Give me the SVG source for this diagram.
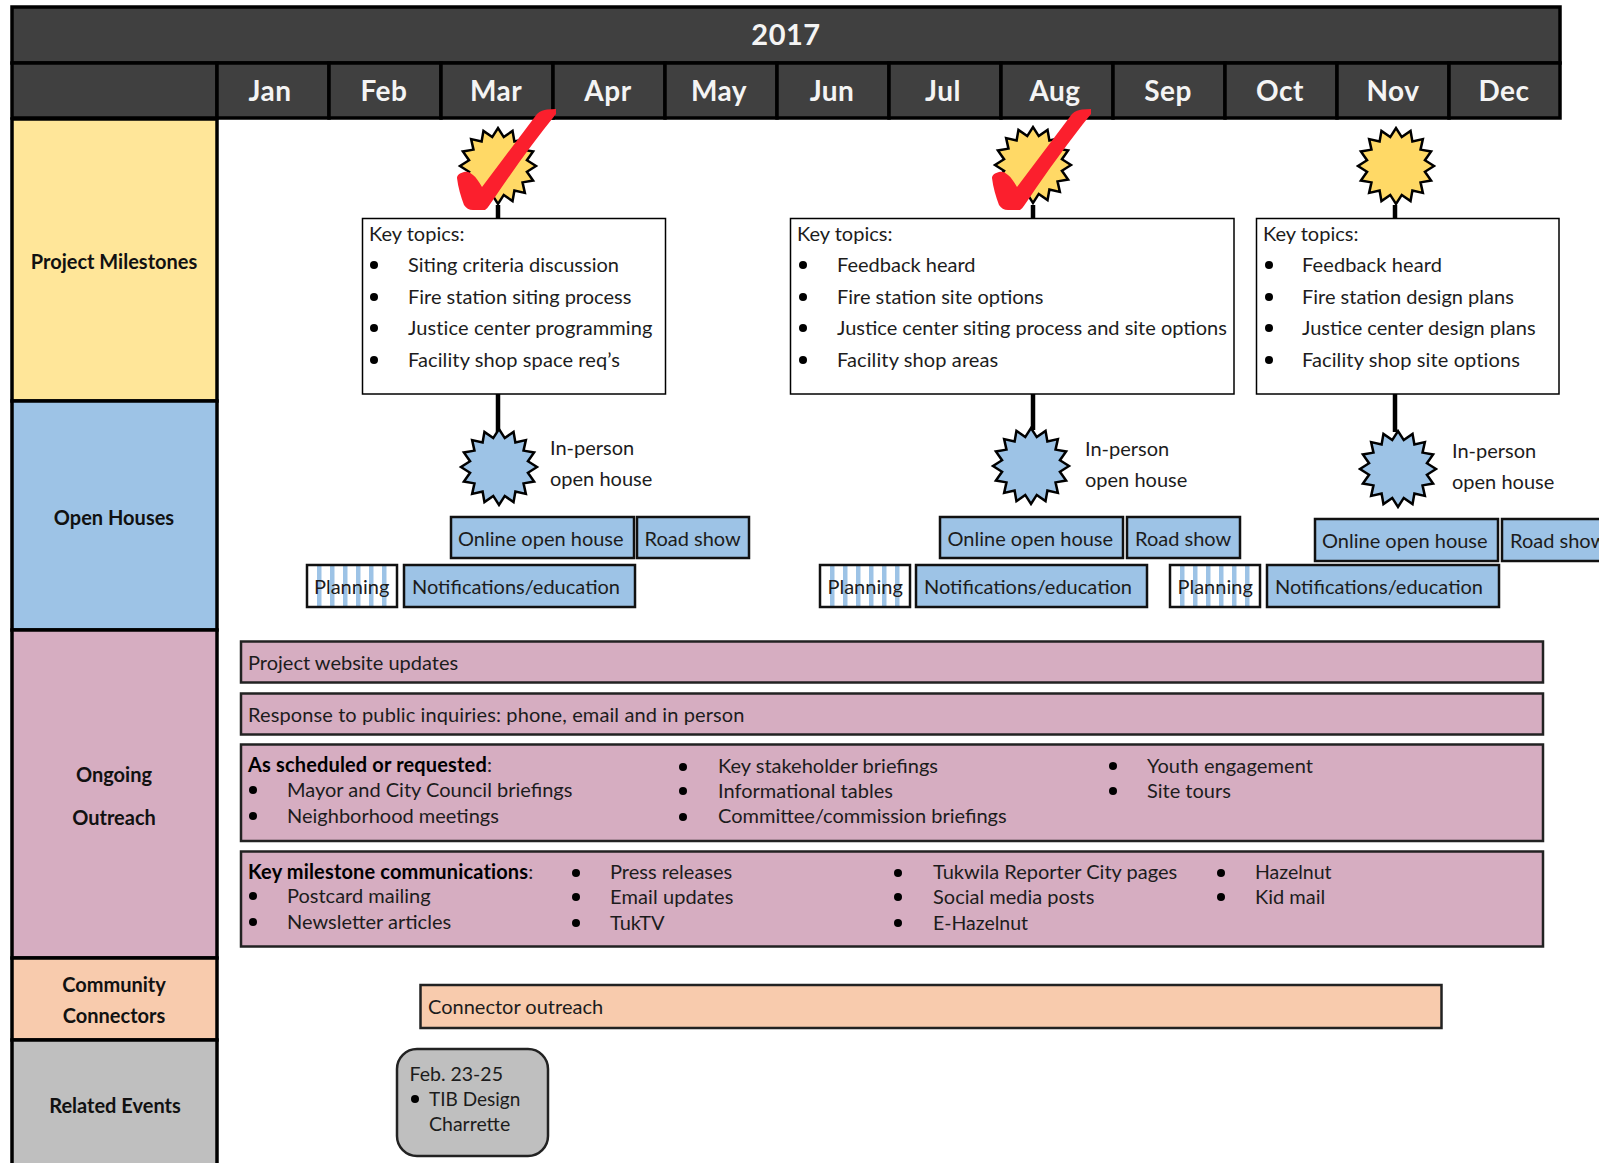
<svg xmlns="http://www.w3.org/2000/svg" xmlns:xlink="http://www.w3.org/1999/xlink" width="1599" height="1163" viewBox="0 0 1599 1163">
<style>
text{font-family:Lato,"Open Sans",sans-serif;font-size:20px;fill:#1c1c1c}
.hd{font-weight:700;fill:#f4f4f4;text-anchor:middle;letter-spacing:.5px}
.yr{font-size:29px}.mo{font-size:28px}
.sb{font-weight:700;text-anchor:middle;fill:#111}
.b{font-weight:700;fill:#000;letter-spacing:.15px}
.w{letter-spacing:.11px}
.sm{font-size:19.500px}
.xs{font-size:19px}
.cell{stroke:#000;stroke-width:3.500px}
.dark{fill:#404040}
.box{fill:#fff;stroke:#000;stroke-width:1.500px}
.blue{fill:#9dc3e6;stroke:#111;stroke-width:2.500px}
.plan{fill:none;stroke:#111;stroke-width:2.500px}
.pink{fill:#d6adc1;stroke:#222;stroke-width:2.500px}
.dot{fill:#000}
.star{stroke:#000;stroke-width:2.500px;stroke-linejoin:miter}
.conn{stroke:#000;stroke-width:4.500px;fill:none}
.chk{fill:#fb1f2d}
</style>
<defs>
<polygon id="burst" points="38,0 28.93,5.76 35.11,14.54 24.53,16.39 26.87,26.87 16.39,24.53 14.54,35.11 5.76,28.93 0,38 -5.76,28.93 -14.54,35.11 -16.39,24.53 -26.87,26.87 -24.53,16.39 -35.11,14.54 -28.93,5.76 -38,0 -28.93,-5.76 -35.11,-14.54 -24.53,-16.39 -26.87,-26.87 -16.39,-24.53 -14.54,-35.11 -5.76,-28.93 0,-38 5.76,-28.93 14.54,-35.11 16.39,-24.53 26.87,-26.87 24.53,-16.39 35.11,-14.54 28.93,-5.76"/>
<path id="check" d="M556 109L547 109.500C544 110 540 111 537 114L482 187C479 182 476 177 473 175C470 172 467 171 464 172C460 173 457 175 457 178C458 187 461 197 464 205C466 208 469 210 473 210L485 210C488 208 490 204 493 200C512 172 534 141 556 114Z"/>
<g id="stripes" fill="#9dc3e6"><rect x="10.500" y="2" width="4.500" height="40"/><rect x="23.500" y="2" width="4.500" height="40"/><rect x="36.500" y="2" width="4.500" height="40"/><rect x="49.500" y="2" width="4.500" height="40"/><rect x="62.500" y="2" width="4.500" height="40"/><rect x="75.500" y="2" width="4.500" height="40"/></g>
</defs>
<rect width="1599" height="1163" fill="#fff"/>

<g id="header">
<rect class="cell dark" x="12" y="7" width="1548" height="56"/>
<rect class="cell dark" x="12" y="63" width="205" height="55"/>
<rect class="cell dark" x="217" y="63" width="112" height="55"/>
<rect class="cell dark" x="329" y="63" width="112" height="55"/>
<rect class="cell dark" x="441" y="63" width="112" height="55"/>
<rect class="cell dark" x="553" y="63" width="112" height="55"/>
<rect class="cell dark" x="665" y="63" width="112" height="55"/>
<rect class="cell dark" x="777" y="63" width="112" height="55"/>
<rect class="cell dark" x="889" y="63" width="112" height="55"/>
<rect class="cell dark" x="1001" y="63" width="112" height="55"/>
<rect class="cell dark" x="1113" y="63" width="112" height="55"/>
<rect class="cell dark" x="1225" y="63" width="112" height="55"/>
<rect class="cell dark" x="1337" y="63" width="112" height="55"/>
<rect class="cell dark" x="1449" y="63" width="111" height="55"/>
<text class="hd yr" x="786" y="45">2017</text>
<text class="hd mo" x="270" y="101">Jan</text>
<text class="hd mo" x="384" y="101">Feb</text>
<text class="hd mo" x="496" y="101">Mar</text>
<text class="hd mo" x="608" y="101">Apr</text>
<text class="hd mo" x="719" y="101">May</text>
<text class="hd mo" x="832" y="101">Jun</text>
<text class="hd mo" x="943" y="101">Jul</text>
<text class="hd mo" x="1055" y="101">Aug</text>
<text class="hd mo" x="1168" y="101">Sep</text>
<text class="hd mo" x="1280" y="101">Oct</text>
<text class="hd mo" x="1393" y="101">Nov</text>
<text class="hd mo" x="1504" y="101">Dec</text>
</g>

<g id="row-milestones"><rect class="cell" fill="#ffe699" x="12" y="119" width="205" height="282"/><text class="sb" x="114" y="269">Project Milestones</text></g>
<g id="row-openhouses"><rect class="cell" fill="#9dc3e6" x="12" y="401" width="205" height="229"/><text class="sb" x="114" y="525">Open Houses</text></g>
<g id="row-outreach"><rect class="cell" fill="#d6adc1" x="12" y="630" width="205" height="328"/><text class="sb" x="114" y="782">Ongoing</text><text class="sb" x="114" y="825">Outreach</text></g>
<g id="row-connectors"><rect class="cell" fill="#f8cbad" x="12" y="958" width="205" height="82"/><text class="sb" x="114" y="992">Community</text><text class="sb" x="114" y="1023">Connectors</text></g>
<g id="row-events"><rect class="cell" fill="#bfbfbf" x="12" y="1040" width="205" height="140"/><text class="sb" x="115" y="1113">Related Events</text></g>

<g id="connectors">
<line class="conn" x1="498" y1="205" x2="498" y2="218"/>
<line class="conn" x1="498" y1="394" x2="498" y2="432"/>
<line class="conn" x1="1033" y1="205" x2="1033" y2="218"/>
<line class="conn" x1="1033" y1="394" x2="1033" y2="430"/>
<line class="conn" x1="1395" y1="205" x2="1395" y2="218"/>
<line class="conn" x1="1395" y1="394" x2="1395" y2="432"/>
</g>

<g id="milestone-1"><use href="#burst" class="star" fill="#ffd966" x="498" y="166"/><use href="#check" class="chk"/></g>
<g id="milestone-2"><use href="#burst" class="star" fill="#ffd966" x="1033" y="165"/><use href="#check" class="chk" x="535"/></g>
<g id="milestone-3"><use href="#burst" class="star" fill="#ffd966" x="1396" y="166"/></g>

<g id="topics-1"><rect class="box" x="362.500" y="218.500" width="303" height="175.500"/>
<text x="369" y="241">Key topics:</text>
<circle class="dot" cx="374" cy="265" r="4"/><text x="408" y="272">Siting criteria discussion</text>
<circle class="dot" cx="374" cy="297" r="4"/><text x="408" y="304">Fire station siting process</text>
<circle class="dot" cx="374" cy="328" r="4"/><text class="w" x="408" y="335">Justice center programming</text>
<circle class="dot" cx="374" cy="360" r="4"/><text class="w" x="408" y="367">Facility shop space req’s</text></g>
<g id="topics-2"><rect class="box" x="790.500" y="218.500" width="443.500" height="175.500"/>
<text x="797" y="241">Key topics:</text>
<circle class="dot" cx="803" cy="265" r="4"/><text x="837" y="272">Feedback heard</text>
<circle class="dot" cx="803" cy="297" r="4"/><text x="837" y="304">Fire station site options</text>
<circle class="dot" cx="803" cy="328" r="4"/><text x="837" y="335">Justice center siting process and site options</text>
<circle class="dot" cx="803" cy="360" r="4"/><text class="w" x="837" y="367">Facility shop areas</text></g>
<g id="topics-3"><rect class="box" x="1256.500" y="218.500" width="302.500" height="175.500"/>
<text x="1263" y="241">Key topics:</text>
<circle class="dot" cx="1269" cy="265" r="4"/><text class="w" x="1302" y="272">Feedback heard</text>
<circle class="dot" cx="1269" cy="297" r="4"/><text x="1302" y="304">Fire station design plans</text>
<circle class="dot" cx="1269" cy="328" r="4"/><text x="1302" y="335">Justice center design plans</text>
<circle class="dot" cx="1269" cy="360" r="4"/><text class="w" x="1302" y="367">Facility shop site options</text></g>

<g id="openhouse-1"><use href="#burst" class="star" fill="#9dc3e6" x="499" y="467"/><text x="550" y="455">In-person</text><text x="550" y="486">open house</text></g>
<g id="openhouse-2"><use href="#burst" class="star" fill="#9dc3e6" x="1031" y="466"/><text x="1085" y="456">In-person</text><text x="1085" y="487">open house</text></g>
<g id="openhouse-3"><use href="#burst" class="star" fill="#9dc3e6" x="1398" y="469"/><text x="1452" y="458">In-person</text><text x="1452" y="489">open house</text></g>

<g id="online-1"><rect class="blue" x="451" y="517" width="183" height="41"/><text x="458" y="546">Online open house</text></g>
<g id="road-1"><rect class="blue" x="637" y="517" width="112" height="41"/><text x="644.500" y="546">Road show</text></g>
<g id="planning-1"><use href="#stripes" x="306.500" y="564"/><rect class="plan" x="307" y="565" width="90" height="42"/><text x="314" y="594">Planning</text></g>
<g id="notif-1"><rect class="blue" x="404" y="565" width="231" height="42"/><text x="412" y="594">Notifications/education</text></g>

<g id="online-2"><rect class="blue" x="940" y="517" width="183" height="41"/><text x="947.500" y="546">Online open house</text></g>
<g id="road-2"><rect class="blue" x="1127" y="517" width="113" height="41"/><text x="1135" y="546">Road show</text></g>
<g id="planning-2"><use href="#stripes" x="819.500" y="564"/><rect class="plan" x="820" y="565" width="90" height="42"/><text x="827.500" y="594">Planning</text></g>
<g id="notif-2"><rect class="blue" x="916" y="565" width="231" height="42"/><text x="924" y="594">Notifications/education</text></g>

<g id="online-3"><rect class="blue" x="1315" y="519" width="183" height="42"/><text x="1322" y="548">Online open house</text></g>
<g id="road-3"><rect class="blue" x="1502" y="519" width="113" height="42"/><text x="1510" y="548">Road show</text></g>
<g id="planning-3"><use href="#stripes" x="1169.500" y="564"/><rect class="plan" x="1170" y="565" width="90" height="42"/><text x="1177.500" y="594">Planning</text></g>
<g id="notif-3"><rect class="blue" x="1267" y="565" width="232" height="42"/><text x="1275" y="594">Notifications/education</text></g>

<g id="website"><rect class="pink" x="241" y="641.500" width="1302" height="41"/><text x="248" y="670">Project website updates</text></g>
<g id="inquiries"><rect class="pink" x="241" y="693.500" width="1302" height="41"/><text class="w" x="248" y="722">Response to public inquiries: phone, email and in person</text></g>
<g id="scheduled"><rect class="pink" x="241" y="744.500" width="1302" height="96.500"/>
<text x="248" y="772"><tspan class="b">As scheduled or requested</tspan>:</text>
<circle class="dot" cx="253" cy="790" r="4"/><text x="287" y="797">Mayor and City Council briefings</text>
<circle class="dot" cx="253" cy="816" r="4"/><text x="287" y="822.500">Neighborhood meetings</text>
<circle class="dot" cx="683" cy="767" r="4"/><text x="718" y="773">Key stakeholder briefings</text>
<circle class="dot" cx="683" cy="791" r="4"/><text x="718" y="798">Informational tables</text>
<circle class="dot" cx="683" cy="817" r="4"/><text x="718" y="823">Committee/commission briefings</text>
<circle class="dot" cx="1113" cy="766" r="4"/><text class="w" x="1147" y="773">Youth engagement</text>
<circle class="dot" cx="1113" cy="791" r="4"/><text x="1147" y="798">Site tours</text></g>
<g id="key-comms"><rect class="pink" x="241" y="851.500" width="1302" height="95"/>
<text x="248" y="879"><tspan class="b">Key milestone communications</tspan>:</text>
<circle class="dot" cx="253" cy="896" r="4"/><text x="287" y="903">Postcard mailing</text>
<circle class="dot" cx="253" cy="922" r="4"/><text x="287" y="929">Newsletter articles</text>
<circle class="dot" cx="576" cy="873" r="4"/><text x="610" y="879">Press releases</text>
<circle class="dot" cx="576" cy="897" r="4"/><text class="w" x="610" y="904">Email updates</text>
<circle class="dot" cx="576" cy="923" r="4"/><text x="610" y="930">TukTV</text>
<circle class="dot" cx="898" cy="873" r="4"/><text x="933" y="879">Tukwila Reporter City pages</text>
<circle class="dot" cx="898" cy="897" r="4"/><text x="933" y="904">Social media posts</text>
<circle class="dot" cx="898" cy="923" r="4"/><text class="sm" x="933" y="930">E-Hazelnut</text>
<circle class="dot" cx="1221" cy="873" r="4"/><text class="sm" x="1255" y="879">Hazelnut</text>
<circle class="dot" cx="1221" cy="897" r="4"/><text x="1255" y="904">Kid mail</text></g>
<g id="connector-outreach"><rect x="420.500" y="985" width="1021" height="43" fill="#f8cbad" stroke="#222" stroke-width="2.500"/><text x="428" y="1014">Connector outreach</text></g>
<g id="tib"><rect x="397" y="1049" width="151" height="107" rx="20" fill="#bfbfbf" stroke="#222" stroke-width="2.500"/>
<text class="sm" x="409.500" y="1081">Feb. 23-25</text><circle class="dot" cx="415" cy="1099" r="4"/><text class="xs" x="429" y="1106">TIB Design</text><text class="sm" x="429" y="1131">Charrette</text></g>
</svg>
